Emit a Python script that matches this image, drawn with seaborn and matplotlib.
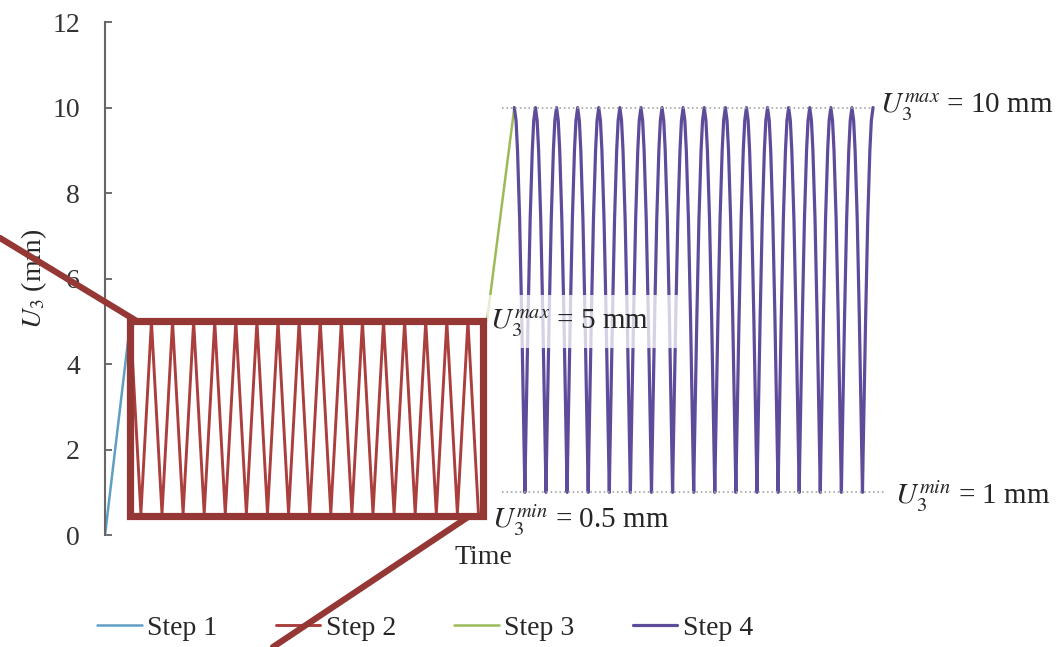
import numpy as np
import pandas as pd
import matplotlib
matplotlib.use("Agg")
import matplotlib.pyplot as plt
from matplotlib.patches import Rectangle
from matplotlib.lines import Line2D
import seaborn as sns

# data (time in arbitrary units, U3 in mm)
step1_t = [0.0, 1.2]
step1_u = [0.0, 5.0]

step2_t = [1.2, 1.7, 2.2, 2.7, 3.2, 3.7, 4.2, 4.7, 5.2, 5.7, 6.2, 6.7, 7.2, 7.7,
           8.2, 8.7, 9.2, 9.7, 10.2, 10.7, 11.2, 11.7, 12.2, 12.7, 13.2, 13.7,
           14.2, 14.7, 15.2, 15.7, 16.2, 16.7, 17.2, 17.7]
step2_u = [5.0, 0.5, 5.0, 0.5, 5.0, 0.5, 5.0, 0.5, 5.0, 0.5, 5.0, 0.5, 5.0, 0.5,
           5.0, 0.5, 5.0, 0.5, 5.0, 0.5, 5.0, 0.5, 5.0, 0.5, 5.0, 0.5,
           5.0, 0.5, 5.0, 0.5, 5.0, 0.5, 5.0, 0.5]

step3_t = [18.1, 19.4]
step3_u = [5.0, 10.0]

# step 4: cycles start at a trough (1 mm), arch up to 10 mm
step4_cycle_t = [18.9, 19.9, 20.9, 21.9, 22.9, 23.9, 24.9, 25.9, 26.9, 27.9,
                 28.9, 29.9, 30.9, 31.9, 32.9, 33.9, 34.9, 35.9]
arch_dt = [0.0, 0.03, 0.08, 0.15, 0.25, 0.35, 0.42, 0.5, 0.58, 0.65, 0.75, 0.85, 0.92, 0.97, 1.0]
arch_u = [1.0, 1.9, 3.2, 5.1, 7.4, 9.0, 9.7, 10.0, 9.7, 9.0, 7.4, 5.1, 3.2, 1.9, 1.0]
step4_start, step4_end = 19.4, 36.4

step_names = ["Step 1", "Step 2", "Step 3", "Step 4"]
step_colors = ["#5E9FC2", "#AA3F3E", "#9BBB59", "#5E4B9A"]

rows = []
for c in step4_cycle_t:
    for dt, u in zip(arch_dt, arch_u):
        rows.append((round(c + dt, 4), u))
s4 = pd.DataFrame(rows, columns=["t", "u"]).drop_duplicates("t")
s4 = s4[(s4.t >= step4_start) & (s4.t <= step4_end)]

sns.set_style("white")
plt.rcParams["font.family"] = ["Liberation Serif", "DejaVu Serif"]
plt.rcParams["mathtext.fontset"] = "stix"

fig = plt.figure(figsize=(10.63, 6.47), dpi=100)
ax = fig.add_axes([0.0988, 0.173, 0.7344, 0.7929])

sns.lineplot(x=step1_t, y=step1_u, ax=ax, color=step_colors[0], lw=1.8,
             label=step_names[0], estimator=None, sort=False)
sns.lineplot(x=step2_t, y=step2_u, ax=ax, color=step_colors[1], lw=2.1,
             label=step_names[1], estimator=None, sort=False)
sns.lineplot(x=step3_t, y=step3_u, ax=ax, color=step_colors[2], lw=1.8,
             label=step_names[2], estimator=None, sort=False)
sns.lineplot(x=s4.t.values, y=s4.u.values, ax=ax, color=step_colors[3], lw=2.3,
             label=step_names[3], estimator=None, sort=False)

# dotted guide lines
ax.plot([18.8, 36.4], [10, 10], ls=":", color="#a6a6a6", lw=1.2)
ax.plot([18.8, 36.9], [1, 1], ls=":", color="#a6a6a6", lw=1.2, clip_on=False)

ax.set_xlim(0, 37)
ax.set_ylim(0, 12)
ax.set_yticks([0, 2, 4, 6, 8, 10, 12])
ax.set_xticks([])
ax.tick_params(axis="y", direction="in", length=5, width=1.2, color="#555555",
               labelsize=20, pad=18, labelcolor="#333333", left=True)
for sp in ["top", "right", "bottom"]:
    ax.spines[sp].set_visible(False)
ax.spines["left"].set_color("#666666")
ax.spines["left"].set_linewidth(1.5)

ax.set_ylabel(r"$U_3$ (mm)", fontsize=20, labelpad=2)
ax.set_xlabel("Time", fontsize=20)
ax.xaxis.set_label_coords(0.485, -0.02)

# labels
lab_fs = 21
ax.text(36.73, 10, r"$U_3^{max}$ = 10 mm", fontsize=lab_fs, va="center", ha="left", clip_on=False)
ax.text(37.44, 0.9, r"$U_3^{min}$ = 1 mm", fontsize=lab_fs, va="center", ha="left", clip_on=False)
ax.text(18.34, 0.35, r"$U_3^{min}$ = 0.5 mm", fontsize=lab_fs, va="center", ha="left", clip_on=False)
ax.add_patch(Rectangle((18.1, 4.37), 9.5, 1.24, facecolor="white", alpha=0.75,
                       edgecolor="none", zorder=4))
ax.text(18.25, 4.95, r"$U_3^{max}$ = 5 mm", fontsize=lab_fs, va="center", ha="left", zorder=5)

# zoom highlight box and connectors
ax.add_patch(Rectangle((1.18, 0.44), 16.72, 4.56, facecolor="none",
                       edgecolor="#953735", lw=5.2, zorder=6, clip_on=False))
H = 647.0
W = 1063.0
fig.add_artist(Line2D([0 / W, 135 / W], [1 - 238 / H, 1 - 320 / H],
                      color="#953735", lw=4.5, zorder=7))
fig.add_artist(Line2D([468 / W, 273 / W], [1 - 517 / H, 1 - 647 / H],
                      color="#953735", lw=4.5, zorder=7))

ax.legend(loc="center", bbox_to_anchor=(0.40, 0.029), bbox_transform=fig.transFigure,
          ncol=4, frameon=False, fontsize=20, handlelength=1.6, handletextpad=0.2,
          columnspacing=2.1)

fig.savefig("out.png", dpi=100)
